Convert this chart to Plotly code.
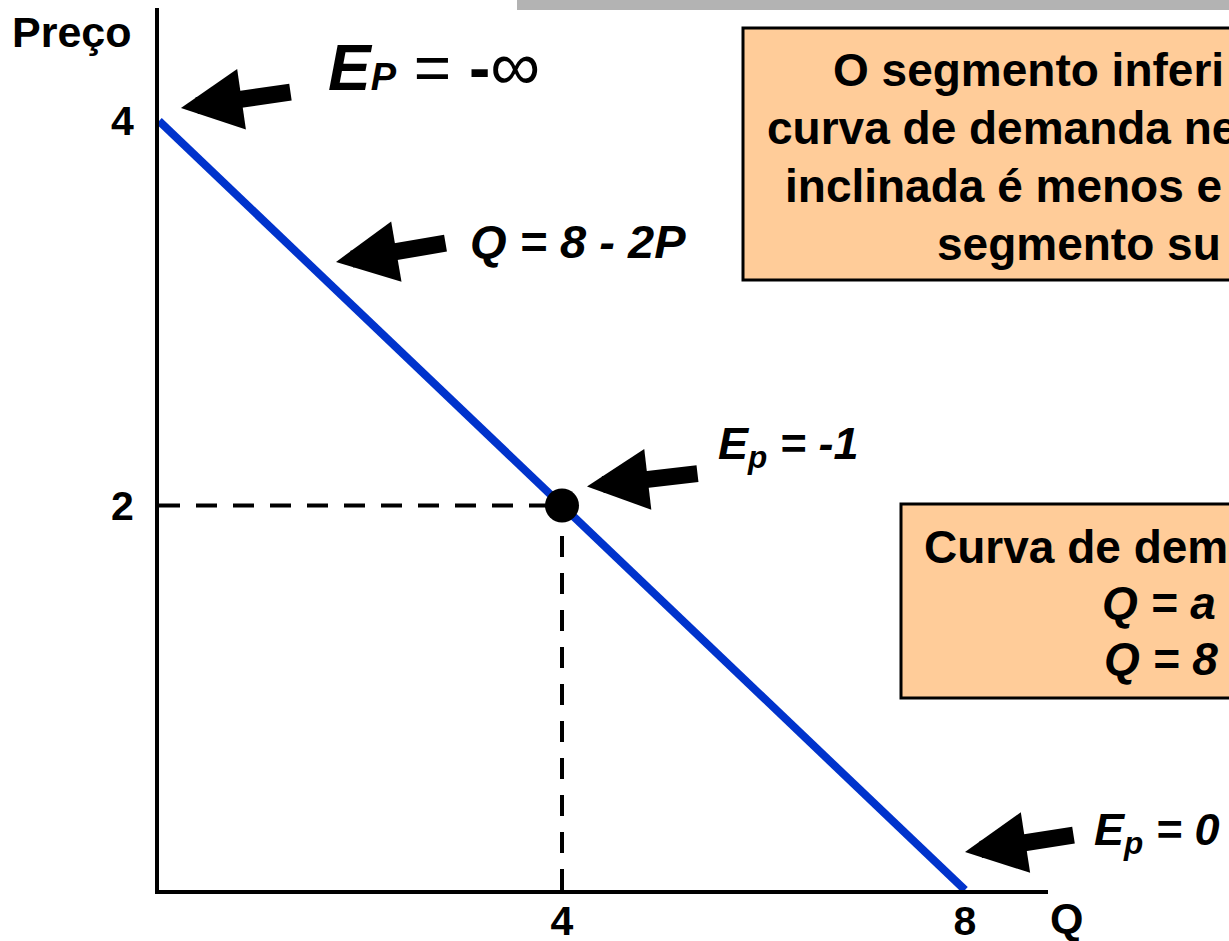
import plotly.graph_objects as go

# demand curve Q = 8 - 2P
quantity = [0, 8]
price = [4, 0]

# unit-elastic point
point_q = [4]
point_p = [2]

x_ticks = [4, 8]
x_tick_text = ["4", "8"]
y_ticks = [2, 4]
y_tick_text = ["2", "4"]

# the slide is cropped on the right, only the visible part of each line is kept
box_top_lines = [
    "O segmento inferi",
    "curva de demanda ne",
    "inclinada é menos e",
    "segmento su",
]
box_bottom_lines = [
    "Curva de dem",
    "<i>Q = a</i>",
    "<i>Q = 8</i>",
]

W, H = 1229, 941
L, T, PW, PH = 159, 8, 889, 882
FONT = "Arial, Liberation Sans, sans-serif"


def px(x):
    return (x - L) / PW


def py(y):
    return (T + PH - y) / PH


fig = go.Figure()

# dashed guides to the point
fig.add_trace(go.Scatter(x=[0, point_q[0]], y=[point_p[0], point_p[0]], mode="lines",
                         line=dict(color="black", width=4, dash="21px,16px"), hoverinfo="skip"))
fig.add_trace(go.Scatter(x=[point_q[0], point_q[0]], y=[0, point_p[0]], mode="lines",
                         line=dict(color="black", width=4, dash="21px,16px"), hoverinfo="skip"))
fig.add_trace(go.Scatter(x=quantity, y=price, mode="lines",
                         line=dict(color="#0033CC", width=8)))
fig.add_trace(go.Scatter(x=point_q, y=point_p, mode="markers",
                         marker=dict(color="black", size=34)))

# background boxes and top bar
fig.add_shape(type="rect", xref="paper", yref="paper", x0=px(517), x1=px(1260), y0=py(10), y1=py(-5),
              fillcolor="#B3B3B3", line=dict(width=0))
fig.add_shape(type="rect", xref="paper", yref="paper", x0=px(743), x1=px(1300), y0=py(280), y1=py(28),
              fillcolor="#FFCC99", line=dict(color="black", width=3), layer="below")
fig.add_shape(type="rect", xref="paper", yref="paper", x0=px(901), x1=px(1300), y0=py(698), y1=py(504),
              fillcolor="#FFCC99", line=dict(color="black", width=3), layer="below")

# box texts, each line placed at its left edge
for txt, x0, y0 in zip(box_top_lines, [831, 765, 783, 935], [70, 128, 186, 244]):
    fig.add_annotation(xref="paper", yref="paper", x=px(x0), y=py(y0), xanchor="left", yanchor="middle",
                       text="<b>" + txt + "</b>", showarrow=False, font=dict(size=46, color="black"))
for txt, x0, y0 in zip(box_bottom_lines, [922, 1100, 1102], [547, 603, 659]):
    fig.add_annotation(xref="paper", yref="paper", x=px(x0), y=py(y0), xanchor="left", yanchor="middle",
                       text="<b>" + txt + "</b>", showarrow=False, font=dict(size=46, color="black"))

# arrows (tip in data units, tail offset in pixels)
arrows = [(0.218, 4.068, 111, -16), (1.757, 3.267, 111, -19),
          (4.248, 2.099, 112, -13), (8.0, 0.198, 110, -17)]
for x, y, ax, ay in arrows:
    fig.add_annotation(x=x, y=y, ax=ax, ay=ay, xref="x", yref="y", text="", showarrow=True,
                       arrowhead=2, arrowwidth=17, arrowsize=0.72, arrowcolor="black")

# labels
fig.add_annotation(xref="paper", yref="paper", x=px(326), y=py(66), xanchor="left", yanchor="middle",
                   text="<b><i>E</i></b><span style='font-size:38px'><b><i>P</i></b></span>"
                        " = <b>-</b><span style='font-size:70px'>∞</span>",
                   showarrow=False, font=dict(size=64, color="black"))
fig.add_annotation(xref="paper", yref="paper", x=px(468), y=py(241), xanchor="left", yanchor="middle",
                   text="<b><i>Q = 8 - 2P</i></b>", showarrow=False, font=dict(size=47, color="black"))
fig.add_annotation(xref="paper", yref="paper", x=px(716), y=py(446), xanchor="left", yanchor="middle",
                   text="<b><i>E<sub>p</sub> = -1</i></b>", showarrow=False, font=dict(size=45, color="black"))
fig.add_annotation(xref="paper", yref="paper", x=px(1092), y=py(832), xanchor="left", yanchor="middle",
                   text="<b><i>E<sub>p</sub> = 0</i></b>", showarrow=False, font=dict(size=45, color="black"))
fig.add_annotation(xref="paper", yref="paper", x=px(10), y=py(32), xanchor="left", yanchor="middle",
                   text="<b>Preço</b>", showarrow=False, font=dict(size=43, color="black"))
fig.add_annotation(xref="paper", yref="paper", x=px(1066), y=py(918), xanchor="center", yanchor="middle",
                   text="<b>Q</b>", showarrow=False, font=dict(size=43, color="black"))

fig.update_xaxes(range=[0, PW / 100.75], showgrid=False, zeroline=False, showline=True,
                 linecolor="black", linewidth=4, tickvals=x_ticks,
                 ticktext=["<b>" + t + "</b>" for t in x_tick_text],
                 tickfont=dict(size=41, color="black"), ticks="", ticklabelstandoff=-8,
                 automargin=False)
fig.update_yaxes(range=[0, PH / 192.25], showgrid=False, zeroline=False, showline=True,
                 linecolor="black", linewidth=4, tickvals=y_ticks,
                 ticktext=["<b>" + t + "</b>" for t in y_tick_text],
                 tickfont=dict(size=41, color="black"), ticks="", ticklabelstandoff=13,
                 automargin=False)

fig.update_layout(width=W, height=H, margin=dict(l=L, r=W - L - PW, t=T, b=H - T - PH),
                  plot_bgcolor="white", paper_bgcolor="white", showlegend=False,
                  font=dict(family=FONT))

# the page body has a default 8px margin; drop it so the figure fills the window
fig.write_html("out.html", config={"displayModeBar": False},
               post_script="document.body.style.margin='0';")
